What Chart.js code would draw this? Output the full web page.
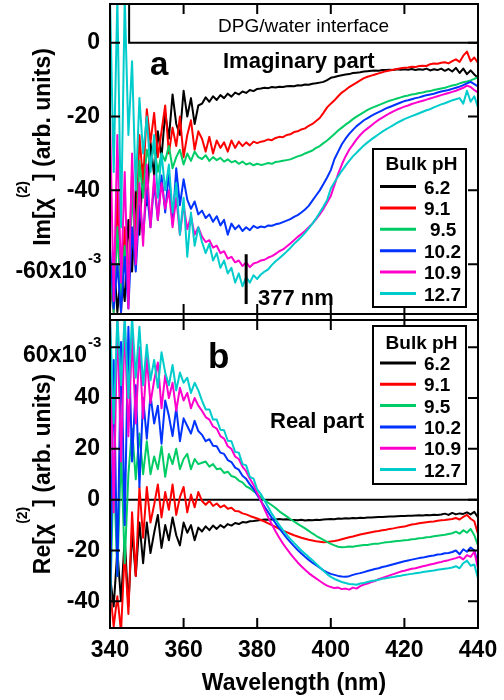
<!DOCTYPE html>
<html>
<head>
<meta charset="utf-8">
<title>DPG/water interface - Im and Re chi(2)</title>
<script src="https://cdn.jsdelivr.net/npm/chart.js@4.4.1/dist/chart.umd.min.js"></script>
<style>
  body { margin: 0; background: #fff; }
  #wrap { position: relative; width: 504px; height: 700px; }
  canvas { position: absolute; left: 0; }
</style>
</head>
<body>
<div id="wrap">
  <canvas id="imChart" width="504" height="320" style="top:0px"></canvas>
  <canvas id="reChart" width="504" height="386" style="top:314px"></canvas>
</div>
<script>
// wavelength grid (nm)
const wavelengths = [
  340, 341, 342, 343, 344, 345, 346, 347, 348, 349,
  350, 351, 352, 353, 354, 355, 356, 357, 358, 359,
  360, 361, 362, 363, 364, 365, 366, 367, 368, 369,
  370, 371, 372, 373, 374, 375, 376, 377, 378, 379,
  380, 381, 382, 383, 384, 385, 386, 387, 388, 389,
  390, 391, 392, 393, 394, 395, 396, 397, 398, 399,
  400, 401, 402, 403, 404, 405, 406, 407, 408, 409,
  410, 411, 412, 413, 414, 415, 416, 417, 418, 419,
  420, 421, 422, 423, 424, 425, 426, 427, 428, 429,
  430, 431, 432, 433, 434, 435, 436, 437, 438, 439,
  440
];
const bulkPH = ['6.2', '9.1', '9.5', '10.2', '10.9', '12.7'];
const xTicks = [340, 360, 380, 400, 420, 440];
const imTicks = [0, -20, -40, -60];
const reTicks = [60, 40, 20, 0, -20, -40];

// Im[chi(2)] x 10^-3, panel a
const im62 = [
  -72, -58, -73, -62, -70, -48, -62, -40, -52, -33, -44, -27, -36, -24, -31,
  -19, -26, -14, -22, -25, -13, -20, -15, -22, -17,
  -16.5, -14.8, -16, -14.5, -15.5, -14.2, -15, -13.8, -14.6, -13.5, -14, -13.2, -13.6, -12.8, -13.1, -12.5,
  -12.4, -12.2, -12.3, -12, -12.1, -11.9, -12, -11.8, -11.7, -11.8, -11.5, -11.6, -11.3, -11.4, -11.1, -11, -10.8, -10.6, -10.1,
  -9.5, -9.3, -9, -8.8, -8.6, -8.5, -8.2, -8.1, -8, -7.8, -7.7, -7.6, -7.5, -7.6, -7.4, -7.4, -7.3, -7.4, -7.2, -7.3, -7.2,
  -7.3, -7.1, -7.4, -7.2, -7.3, -7, -7.5, -7.2, -7.4, -7, -7.6, -7.1, -7.8, -6.8, -8.2, -7, -8.5, -7.5, -8.6, -9.5
];
const im91 = [
  -60, -73, -40, -73, -50, -65, -35, -55, -25, -38, -18,
  -27, -19, -31, -24, -17, -30, -23, -28, -20, -31, -25, -21, -29, -24,
  -26, -29.5, -25.5, -30, -26.5, -28.5, -27, -29.5, -26.5, -28.5, -26.8, -28, -27, -27.8, -26.8, -27.2,
  -26.8, -26.6, -26.2, -26.4, -25.8, -25.5, -25.6, -25, -24.8, -24.2, -24, -23.5, -23.2, -22.5, -22, -21.2,
  -20.4, -19, -17.5, -16.5, -15.6, -14.5, -13.5, -12.8, -12, -11.4, -10.8, -10.2, -9.6, -9.2, -8.9, -8.6, -8.3, -8, -7.7, -7.5, -7.3, -7.1, -6.9, -6.8,
  -6.7, -6.5, -6.6, -6.3, -6.2, -6.3, -5.8, -5.6, -5.7, -5.4, -5.3, -5.6, -5, -4.5, -5.2, -3.5, -2.4, -5, -4, -5.5
];
const im95 = [
  -60, -73, -50, -70, -55, -68, -40, -58, -32, -42, -29,
  -33, -28, -35, -30, -32, -28, -34, -31, -29, -33, -30, -32, -29.5, -31,
  -31.5, -30.5, -32, -31, -31.8, -31.2, -32.2, -31.6, -32.4, -32, -32.8, -32.2, -33, -32.6, -33.2, -32.8, -33.1, -32.9, -32.6, -32.8, -32.3,
  -32.2, -32, -31.8, -31.6, -31.2, -30.8, -30.5, -30, -29.6, -29.2, -28.5, -28, -27.2, -26.5,
  -25.6, -24.7, -23.8, -23, -22.2, -21.5, -20.7, -20, -19.4, -18.8, -18.2, -17.7, -17.3, -16.9, -16.5, -16.1, -15.7, -15.4, -15.1, -14.8, -14.5,
  -14.3, -14, -13.9, -13.6, -13.5, -13.2, -13.1, -12.8, -12.6, -12.4, -12.2, -11.9, -11.6, -11.4, -11, -10.7, -10.5, -10.2, -9.8, -9.3
];
const im102 = [
  -55, -72, -60, -73, -58, -72, -50, -62, -44, -52, -40, -50, -38, -48, -36, -46,
  -35, -49, -34, -44, -37, -42.5, -45, -43, -46.5,
  -45.5, -47.5, -46.5, -48.5, -47, -49.5, -48, -52, -49, -50.5, -49.5, -51, -50, -50.8, -49.6, -50.2,
  -49.8, -50, -49.5, -49.6, -49.2, -49, -48.6, -48.2, -47.8, -47.2, -46.7, -46, -45.2, -44.2, -42.8, -41.4, -40, -38.3, -36.5,
  -34.5, -31.5, -29.5, -27.5, -26, -24.7, -23.6, -22.6, -21.8, -21, -20.4, -19.8, -19.3, -18.8, -18.3, -17.8, -17.4, -17, -16.6, -16.2, -15.8,
  -15.6, -15.3, -15, -14.8, -14.5, -14.2, -14, -13.8, -13.5, -13.2, -13, -12.8, -12.5, -12.2, -11.9, -11.5, -11, -10.6, -11.2, -11.8
];
const im109 = [
  -20, -70, -25, -65, -35, -72, -30, -60, -38, -55, -33, -50, -36, -48, -38, -45,
  -40, -50, -42, -52, -44, -50.5, -47, -52, -50,
  -52.5, -54, -53.5, -55.5, -55, -57, -56.5, -58.5, -58, -59.5, -59, -60.5, -59.5, -60.8, -59.8, -59.5,
  -59, -58.8, -58.2, -57.8, -57.2, -56.5, -56, -55.2, -54.4, -53.5, -52.6, -51.8, -51, -50, -49, -47.8, -46.5, -45, -43.3,
  -41.5, -38.5, -35.5, -33, -30.8, -29, -27.6, -26.2, -25, -24, -23.2, -22.4, -21.6, -20.9, -20.3, -19.7, -19.1, -18.6, -18.1, -17.7, -17.3,
  -17, -16.6, -16.3, -16, -15.7, -15.4, -15.1, -14.8, -14.5, -14.2, -13.9, -13.6, -13.3, -13, -12.6, -12.2, -11.6, -12, -12.8, -13.5
];
const im127 = [
  12, -35, 12, -50, 12, -25, -5, -40, -15, -30, -20, -35, -25, -42, -30, -40,
  -33, -46, -38, -52, -42, -58, -46, -55, -50,
  -54, -57, -54.5, -59, -57, -61, -59, -62.5, -61, -65, -62.5, -66, -63.5, -65, -63, -64,
  -62.8, -62, -61.4, -60.2, -59.2, -58.4, -57.5, -56.6, -55.6, -54.5, -53.6, -52.6, -51.5, -50.3, -49, -47.6, -46, -44.4, -42.6,
  -39.5, -37.8, -36.2, -34.7, -33.3, -32, -30.8, -29.8, -28.8, -27.8, -27, -26.2, -25.5, -24.8, -24.1, -23.5, -22.9, -22.3, -21.7, -21.2, -20.7,
  -20.3, -19.9, -19.5, -19.1, -18.7, -18.3, -18, -17.5, -17.1, -16.7, -16.4, -16, -15.6, -15.3, -15, -16.5, -13, -16, -14.5, -17.5
];

// Re[chi(2)] x 10^-3, panel b
const re62 = [
  -30, -42, -20, -40, -15, -42, -12, -30, -9, -25,
  -9, -21, -13, -6, -19, -10, -16, -7, -14, -18, -9, -13, -10, -16, -11,
  -12.5, -10.5, -12, -10.2, -11.5, -10, -11, -9.6, -10.2, -9.2, -9.6, -8.8, -9, -8.5, -8.4, -8.2,
  -8, -7.8, -7.9, -7.7, -7.8, -7.6, -7.8, -7.7, -7.9, -8, -8.1, -7.9, -8.2, -8, -8.1, -7.9, -8, -7.8, -7.7,
  -7.6, -7.7, -7.4, -7.5, -7.3, -7.4, -7.2, -7.3, -7.1, -7.2, -7, -7, -6.9, -6.8, -6.8, -6.7, -6.6, -6.6, -6.5, -6.4, -6.4,
  -6.3, -6.3, -6.2, -6.1, -6.2, -6, -6.1, -5.9, -6, -5.8, -5.5, -6, -5.2, -5.8, -5.4, -5.6, -5, -5.8, -4.8, -7
];
const re91 = [
  -35, -50, -38, -52, -20, -45, -5, -30, 5, -15,
  5, -9, -2, 6, -7, 3, -4, 6, -6, 1, 5, -5, 2, -3, 3,
  -0.5, -2, -0.5, -2.5, -1.5, -3, -2.2, -3.6, -3.2, -4.5, -4.6, -5.4, -5.8, -6.4, -6.9, -7.4,
  -8, -8.6, -9.3, -10, -10.7, -11.5, -12.2, -12.8, -13.4, -14, -14.5, -15, -15.4, -15.8, -16.1, -16.4, -16.6, -16.8, -16.7,
  -16.5, -16.3, -16, -15.6, -15.2, -14.8, -14.5, -14.1, -13.7, -13.4, -13.1, -12.8, -12.5, -12.3, -12, -11.8, -11.5, -11.3, -11, -10.8, -10.6,
  -10.2, -9.8, -9.6, -9.3, -9.1, -8.9, -8.7, -8.6, -8.3, -8.1, -8, -7.8, -7.6, -7.2, -7.8, -6.8, -6, -7.5, -8.5, -13.5
];
const re95 = [
  -45, 15, -30, 20, -25, 10, 28, 8, 26, 10,
  23, 10, 17, 12, 21, 9, 18, 14, 20, 12, 16, 18, 12, 16, 14,
  14.5, 15, 13, 14, 12, 12.3, 10.5, 11, 9.3, 8.8, 7.5, 6.8, 5.2, 4.5, 3.3, 2.2,
  1, -0.2, -1.2, -2.2, -3.3, -4.6, -5.6, -6.6, -7.6, -8.6, -9.5, -10.4, -11.3, -12.3, -13.3, -14.2, -15, -15.8, -16.6,
  -17.4, -18, -18.5, -18.7, -18.6, -18.4, -18.5, -18.2, -18, -17.8, -17.8, -17.5, -17.3, -17.3, -17, -16.8, -16.7, -16.5, -16.3, -16.2, -16,
  -15.9, -15.6, -15.5, -15.2, -15.1, -14.8, -14.7, -14.4, -14.2, -14, -13.8, -13.5, -13.2, -12.6, -13.4, -12, -13, -11.5, -14, -18
];
const re102 = [
  -45, 55, -30, 62, -10, 68, 15, 45, 5, 40,
  24, 41, 30, 37, 22, 39, 33, 25, 36, 23, 32, 29, 26, 31, 27,
  25.5, 23, 23.8, 21.2, 21, 18.5, 18, 15.6, 14.8, 12.6, 11.8, 9.4, 8.2, 6, 4.2, 1.8,
  -0.5, -2.8, -5, -7.2, -9.3, -11.3, -13.2, -15, -16.7, -18.3, -19.8, -21.2, -22.5, -23.7, -24.8, -25.8, -26.8, -27.8, -28.6,
  -29.2, -29.6, -30, -30.2, -30.3, -30.1, -29.6, -29.2, -28.9, -28.5, -28.1, -27.7, -27.3, -27, -26.5, -26.2, -25.8, -25.4, -25, -24.6, -24.2,
  -23.9, -23.6, -23.3, -23, -22.8, -22.5, -22.2, -22, -21.6, -21.5, -21.1, -21, -20.6, -20, -21.5, -19.5, -20.5, -18.8, -20, -25
];
const re109 = [
  72, -5, 72, 15, 70, 25, 65, 30, 60, 32,
  56, 38, 47, 54, 36, 49, 40, 46, 35, 44, 39, 42, 36, 40, 37,
  35, 32.5, 31.5, 28.8, 28, 25, 24, 21, 20, 17, 16, 13, 11.2, 8.2, 5.8, 2.6,
  -0.5, -3.8, -7, -9.8, -12.5, -15, -17.3, -19.3, -21.2, -23, -24.7, -26.2, -27.6, -28.9, -30, -31, -32, -33, -33.8,
  -34.4, -34.8, -34.6, -35.2, -35, -35.4, -34.6, -35, -34, -33.4, -33, -32.4, -32, -31.3, -30.8, -30.3, -29.8, -29.3, -28.8, -28.3, -28,
  -27.6, -27.2, -27, -26.6, -26.2, -25.9, -25.5, -25.2, -24.8, -24.5, -24.1, -23.8, -23.4, -23, -22.5, -23.5, -21.8, -22.5, -20.5, -27
];
const re127 = [
  72, 30, 72, 45, 72, 40, 72, 48, 68, 45,
  61, 47, 55, 44, 58, 50, 45, 53, 43, 50, 46, 48, 42, 46, 43,
  39, 35.5, 35.5, 31.5, 31.5, 27.5, 27.3, 23.2, 23, 18.8, 18.5, 14, 13.5, 9, 8.3, 4,
  2.2, -0.4, -3, -5.6, -7.8, -10, -12, -13.8, -15.5, -17, -18.5, -20, -21.3, -22.6, -23.8, -25.2, -26.6, -28, -29.3,
  -30.4, -31.2, -31.8, -32.4, -32.8, -33.2, -33.3, -33.5, -33, -32.8, -32.4, -32, -31.8, -31.5, -31.1, -30.9, -30.6, -30.4, -30.1, -29.9, -29.6,
  -29.4, -29.2, -29, -28.8, -28.5, -28.3, -28.1, -27.9, -27.6, -27.4, -27.2, -27, -26.7, -26.2, -27, -25, -24, -26, -25.5, -31
];

const lineColors = ['#000000', '#ff0000', '#00cc66', '#0033ff', '#ff00cc', '#00cccc'];
const FONT = '"Liberation Sans", Arial, Helvetica, sans-serif';

function makeDatasets(seriesList) {
  return seriesList.map((vals, i) => ({
    label: bulkPH[i],
    data: vals.map((v, k) => ({ x: wavelengths[k], y: v })),
    borderColor: lineColors[i],
    borderWidth: 2,
    borderJoinStyle: 'round',
    pointRadius: 0,
    tension: 0,
    order: seriesList.length - 1 - i   // 12.7 drawn last (on top)
  }));
}

// frame with inward ticks on all four sides
function drawFrame(chart, yTicks, extendBottom) {
  const { ctx, chartArea: a, scales: { x, y } } = chart;
  ctx.save();
  ctx.strokeStyle = '#000';
  ctx.lineWidth = 2;
  ctx.strokeRect(a.left, a.top, a.right - a.left, a.bottom - a.top);
  ctx.beginPath();
  xTicks.forEach(v => {
    const px = x.getPixelForValue(v);
    ctx.moveTo(px, a.top); ctx.lineTo(px, a.top + 10);
    ctx.moveTo(px, a.bottom + extendBottom); ctx.lineTo(px, a.bottom - 10);
  });
  yTicks.forEach(v => {
    const py = y.getPixelForValue(v);
    ctx.moveTo(a.left, py); ctx.lineTo(a.left + 10, py);
    ctx.moveTo(a.right, py); ctx.lineTo(a.right - 10, py);
  });
  ctx.stroke();
  ctx.restore();
}

function drawLegend(chart, box) {
  const ctx = chart.ctx;
  ctx.save();
  ctx.fillStyle = '#fff';
  ctx.fillRect(box.left, box.top, box.right - box.left, box.bottom - box.top);
  ctx.strokeStyle = '#000';
  ctx.lineWidth = 2;
  ctx.strokeRect(box.left, box.top, box.right - box.left, box.bottom - box.top);
  ctx.fillStyle = '#000';
  ctx.font = 'bold 19px ' + FONT;
  ctx.textBaseline = 'alphabetic';
  ctx.textAlign = 'center';
  ctx.fillText('Bulk pH', (box.left + box.right) / 2 + 2, box.titleY);
  ctx.textAlign = 'left';
  chart.data.datasets.forEach((ds, i) => {
    const yb = box.firstRow + i * box.rowStep;
    ctx.strokeStyle = ds.borderColor;
    ctx.lineWidth = 3;
    ctx.beginPath();
    ctx.moveTo(380, yb - 7);
    ctx.lineTo(416, yb - 7);
    ctx.stroke();
    ctx.fillText(ds.label, box.labelX[i], yb);
  });
  ctx.restore();
}

function drawExpLabel(ctx, text, right, baseline) {
  ctx.save();
  ctx.fillStyle = '#000';
  ctx.textBaseline = 'alphabetic';
  ctx.textAlign = 'right';
  ctx.font = 'bold 23px ' + FONT;
  ctx.fillText(text, right, baseline);
  ctx.textAlign = 'left';
  ctx.font = 'bold 15px ' + FONT;
  ctx.fillText('-3', right + 1, baseline - 14.5);
  ctx.restore();
}

function drawYTitle(ctx, prefix, baseX, centerY) {
  const parts = [[prefix + 'χ', 23, 0], ['(2)', 14, 23], ['] (arb. units)', 23, 0]];
  ctx.save();
  ctx.translate(baseX, centerY);
  ctx.rotate(-Math.PI / 2);
  ctx.fillStyle = '#000';
  ctx.textBaseline = 'alphabetic';
  ctx.textAlign = 'left';
  let total = 0;
  parts.forEach(p => { ctx.font = 'bold ' + p[1] + 'px ' + FONT; total += ctx.measureText(p[0]).width; });
  let pos = -total / 2;
  parts.forEach(p => {
    ctx.font = 'bold ' + p[1] + 'px ' + FONT;
    ctx.fillText(p[0], pos, -p[2]);
    pos += ctx.measureText(p[0]).width;
  });
  ctx.restore();
}

const tickFont = { family: FONT, size: 23, weight: 'bold' };

const imDecor = {
  id: 'imDecor',
  afterDatasetsDraw(chart) {
    const { ctx, chartArea: a, scales: { x, y } } = chart;
    const bx = x.getPixelForValue(345.2);
    const y0 = y.getPixelForValue(0);
    ctx.save();
    ctx.strokeStyle = '#000';
    ctx.lineWidth = 2;
    ctx.beginPath();
    ctx.moveTo(bx, a.top); ctx.lineTo(bx, y0); ctx.lineTo(a.right, y0);
    ctx.stroke();
    // 377 nm marker
    const mx = x.getPixelForValue(377);
    ctx.lineWidth = 3;
    ctx.beginPath();
    ctx.moveTo(mx, y.getPixelForValue(-57.3));
    ctx.lineTo(mx, y.getPixelForValue(-70.8));
    ctx.stroke();
    ctx.fillStyle = '#000';
    ctx.textBaseline = 'alphabetic';
    ctx.textAlign = 'center';
    ctx.font = '19px ' + FONT;
    ctx.fillText('DPG/water interface', (bx + a.right) / 2, 32);
    ctx.textAlign = 'left';
    ctx.font = 'bold 33px ' + FONT;
    ctx.fillText('a', 150, 75);
    ctx.font = 'bold 22px ' + FONT;
    ctx.fillText('Imaginary part', 223, 67.5);
    ctx.fillText('377 nm', 258, 305);
    ctx.restore();

    drawFrame(chart, imTicks, 6);
    drawLegend(chart, {
      left: 373, top: 149, right: 466, bottom: 307,
      titleY: 169.5, firstRow: 193.5, rowStep: 21.4,
      labelX: [424, 424, 430, 424, 424, 424]
    });
    drawExpLabel(ctx, '-60x10', 87, y.getPixelForValue(-60) + 13.5);
    drawYTitle(ctx, 'Im[', 50, 147);
  }
};

const reDecor = {
  id: 'reDecor',
  beforeDatasetsDraw(chart) {
    const { ctx, chartArea: a, scales: { y } } = chart;
    const y0 = y.getPixelForValue(0);
    ctx.save();
    ctx.strokeStyle = '#000';
    ctx.lineWidth = 2;
    ctx.beginPath();
    ctx.moveTo(a.left, y0); ctx.lineTo(a.right, y0);
    ctx.stroke();
    ctx.restore();
  },
  afterDatasetsDraw(chart) {
    const { ctx, scales: { y } } = chart;
    ctx.save();
    ctx.fillStyle = '#000';
    ctx.textBaseline = 'alphabetic';
    ctx.textAlign = 'left';
    ctx.font = 'bold 35px ' + FONT;
    ctx.fillText('b', 208, 54);
    ctx.font = 'bold 22px ' + FONT;
    ctx.fillText('Real part', 270, 114);
    ctx.restore();

    drawFrame(chart, reTicks, 0);
    drawLegend(chart, {
      left: 373, top: 12, right: 466, bottom: 170,
      titleY: 34.5, firstRow: 56, rowStep: 21.3,
      labelX: [424, 424, 424, 424, 424, 424]
    });
    drawExpLabel(ctx, '60x10', 87, y.getPixelForValue(60) + 14.5);
    drawYTitle(ctx, 'Re[', 50, 160);
  }
};

// fixed axis sizes so both plot areas line up
function fixYAxis(s) {
  s.width = 110;
  s.paddingTop = 0;
  s.paddingBottom = 0;
}
function fixXAxis(s) {
  s.height = 72;
  s.paddingLeft = 0;
  s.paddingRight = 0;
}

const imConfig = {
  type: 'line',
  data: { datasets: makeDatasets([im62, im91, im95, im102, im109, im127]) },
  options: {
    responsive: false,
    animation: false,
    layout: { padding: { left: 0, right: 26, top: 4, bottom: 6 } },
    scales: {
      x: { type: 'linear', min: 340, max: 440, display: false },
      y: {
        min: -73.5,
        max: 10.5,
        afterFit: fixYAxis,
        afterBuildTicks: s => { s.ticks = imTicks.map(v => ({ value: v })); },
        grid: { display: false, drawTicks: false },
        border: { display: false },
        ticks: {
          padding: 10,
          color: '#000',
          font: tickFont,
          callback: v => (v === -60 ? '' : String(v))
        }
      }
    },
    plugins: { legend: { display: false }, tooltip: { enabled: false } }
  },
  plugins: [imDecor]
};

const reConfig = {
  type: 'line',
  data: { datasets: makeDatasets([re62, re91, re95, re102, re109, re127]) },
  options: {
    responsive: false,
    animation: false,
    layout: { padding: { left: 0, right: 26, top: 6, bottom: 0 } },
    scales: {
      x: {
        type: 'linear',
        min: 340,
        max: 440,
        afterFit: fixXAxis,
        afterBuildTicks: s => { s.ticks = xTicks.map(v => ({ value: v })); },
        grid: { display: false, drawTicks: false },
        border: { display: false },
        ticks: { padding: 9, color: '#000', font: tickFont, autoSkip: false, maxRotation: 0 },
        title: {
          display: true,
          text: 'Wavelength (nm)',
          color: '#000',
          font: { family: FONT, size: 23, weight: 'bold' },
          padding: { top: 0, bottom: 3 }
        }
      },
      y: {
        min: -50.5,
        max: 70.7,
        afterFit: fixYAxis,
        afterBuildTicks: s => { s.ticks = reTicks.map(v => ({ value: v })); },
        grid: { display: false, drawTicks: false },
        border: { display: false },
        ticks: {
          padding: 10,
          color: '#000',
          font: tickFont,
          callback: v => (v === 60 ? '' : String(v))
        }
      }
    },
    plugins: { legend: { display: false }, tooltip: { enabled: false } }
  },
  plugins: [reDecor]
};

const imChart = new Chart('imChart', imConfig);
const reChart = new Chart('reChart', reConfig);
</script>
</body>
</html>
